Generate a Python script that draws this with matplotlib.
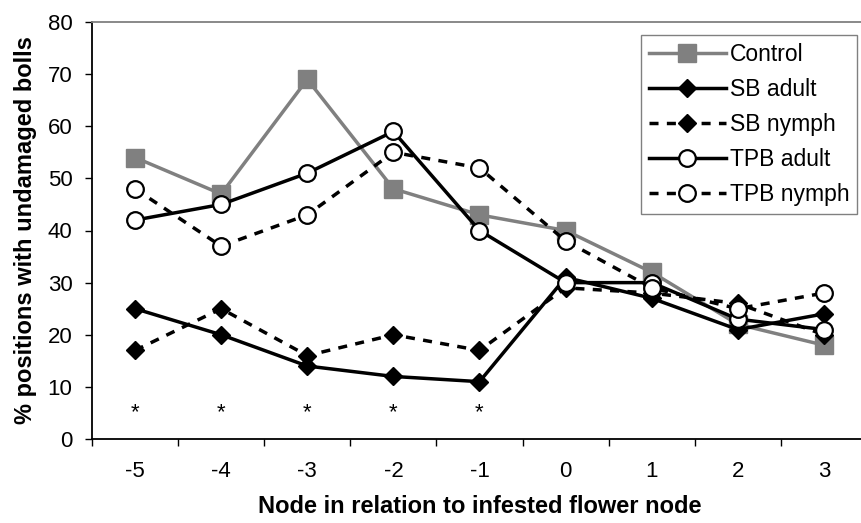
import matplotlib
matplotlib.use("Agg")
import matplotlib.pyplot as plt
from matplotlib.ticker import FixedLocator

plt.rcParams['font.family'] = ['Liberation Sans', 'DejaVu Sans']

nodes = ["-5", "-4", "-3", "-2", "-1", "0", "1", "2", "3"]
control = [54, 47, 69, 48, 43, 40, 32, 22, 18]
sb_adult = [25, 20, 14, 12, 11, 31, 27, 21, 24]
sb_nymph = [17, 25, 16, 20, 17, 29, 28, 26, 20]
tpb_adult = [42, 45, 51, 59, 40, 30, 30, 23, 21]
tpb_nymph = [48, 37, 43, 55, 52, 38, 29, 25, 28]
signif = ["-5", "-4", "-3", "-2", "-1"]
yticks = [0, 10, 20, 30, 40, 50, 60, 70, 80]

W, H = 862, 523
fig = plt.figure(figsize=(W / 100, H / 100), dpi=100)
ax = fig.add_axes([92 / W, (H - 439) / H, 775 / W, 417 / H])

x = list(range(len(nodes)))
lw = 2.5
dash = (2.6, 2.4)
ax.plot(x, control, color='#808080', lw=lw, marker='s', ms=12.5, mfc='#808080', mec='#808080', label='Control', zorder=3)
ax.plot(x, sb_adult, color='black', lw=lw, marker='D', ms=9, mfc='black', mec='black', label='SB adult', zorder=4)
ax.plot(x, sb_nymph, color='black', lw=lw, ls=(0, dash), marker='D', ms=9, mfc='black', mec='black', label='SB nymph', zorder=4)
ax.plot(x, tpb_adult, color='black', lw=lw, marker='o', ms=12, mfc='white', mec='black', mew=1.6, label='TPB adult', zorder=5)
ax.plot(x, tpb_nymph, color='black', lw=lw, ls=(0, dash), marker='o', ms=12, mfc='white', mec='black', mew=1.6, label='TPB nymph', zorder=5)

for s in signif:
    ax.text(nodes.index(s), 4.0, '*', ha='center', va='baseline', fontsize=16)

ax.set_xlim(-0.5, len(nodes) - 0.5)
ax.set_ylim(0, 80)
ax.set_yticks(yticks)
ax.set_xticks(x)
ax.set_xticklabels(nodes)
ax.xaxis.set_minor_locator(FixedLocator([i - 0.5 for i in range(len(nodes) + 1)]))
ax.tick_params(axis='x', which='major', length=0, pad=16, labelsize=16)
ax.tick_params(axis='x', which='minor', length=5, width=1, direction='out')
ax.tick_params(axis='y', length=5, width=1, direction='out', pad=9, labelsize=16)

for side in ['top', 'right']:
    ax.spines[side].set_color('#808080')
    ax.spines[side].set_linewidth(1.3)
for side in ['left', 'bottom']:
    ax.spines[side].set_color('black')
    ax.spines[side].set_linewidth(1.3)

ax.set_xlabel('Node in relation to infested flower node', fontsize=17, fontweight='bold', labelpad=9)
ax.set_ylabel('% positions with undamaged bolls', fontsize=17, fontweight='bold', labelpad=8)

leg = ax.legend(loc='upper left', bbox_to_anchor=(640.7 / W, 1 - 35 / H), bbox_transform=fig.transFigure,
                fontsize=16.5, frameon=True, fancybox=False, edgecolor='#808080', framealpha=1,
                handlelength=3.36, handletextpad=0.17, borderpad=0.35, labelspacing=0.52, borderaxespad=0)
leg.get_frame().set_linewidth(1.0)

fig.savefig('out.png', dpi=100)
